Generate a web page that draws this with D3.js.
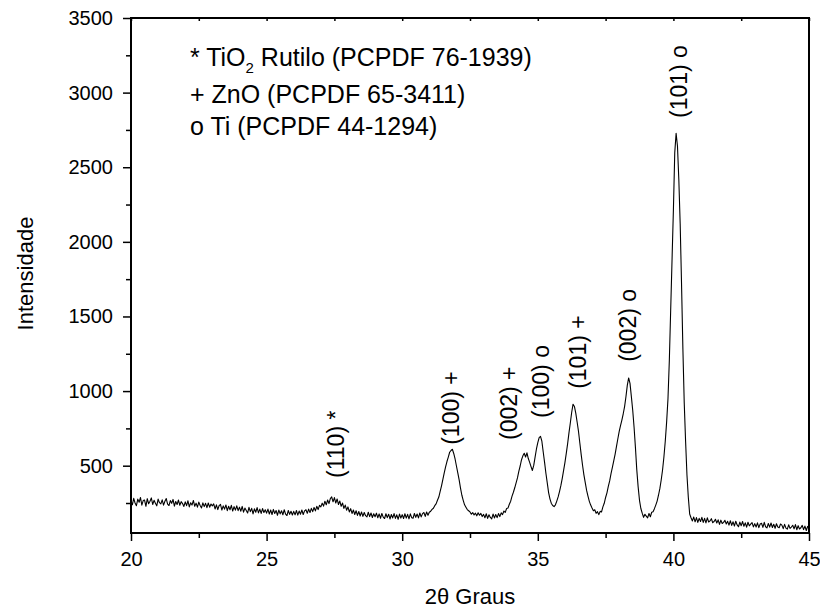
<!DOCTYPE html>
<html>
<head>
<meta charset="utf-8">
<script src="https://cdn.jsdelivr.net/npm/d3@7"></script>
<style>
  body { margin: 0; background: #fff; }
  svg { display: block; font-family: "Liberation Sans", Arial, sans-serif; }
</style>
</head>
<body>
<svg id="chart" width="820" height="609"></svg>
<script>
// 2θ grid of the scan (degrees)
const angleStart = 20;
const angleStep = 0.05;

// intensity, one value per 0.05 degree, 20.00 .. 45.00
const intensity = [
  // 20
  262, 238, 281, 250, 232, 276, 255, 287, 236, 266, 270, 228, 279, 245, 262, 284, 240, 268, 249, 231,
  // 21
  276, 252, 244, 271, 236, 262, 280, 243, 233, 266, 248, 274, 229, 260, 240, 270, 235, 259, 246, 227,
  // 22
  258, 232, 265, 224, 252, 236, 267, 228, 249, 222, 256, 233, 217, 251, 226, 248, 219, 250, 222, 243,
  // 23
  231, 244, 210, 238, 206, 233, 241, 203, 231, 209, 237, 199, 228, 205, 234, 196, 226, 202, 231, 199,
  // 24
  222, 195, 227, 189, 216, 200, 183, 221, 192, 214, 177, 211, 188, 219, 184, 209, 180, 213, 186, 205,
  // 25
  182, 209, 176, 203, 173, 207, 180, 200, 168, 203, 177, 198, 171, 205, 175, 166, 200, 174, 195, 170,
  // 26
  194, 171, 200, 169, 196, 175, 203, 173, 197, 205, 181, 209, 186, 214, 192, 220, 197, 228, 206, 234,
  // 27
  224, 249, 229, 262, 238, 270, 246, 280, 291, 258, 286, 250, 277, 240, 263, 228, 250, 214, 236, 202,
  // 28
  224, 190, 212, 180, 203, 173, 198, 167, 193, 163, 190, 160, 186, 165, 157, 188, 159, 183, 153, 178,
  // 29
  158, 182, 151, 177, 148, 180, 155, 146, 178, 152, 175, 143, 173, 150, 179, 147, 171, 141, 176, 149,
  // 30
  172, 146, 178, 149, 174, 144, 177, 152, 148, 180, 154, 176, 150, 183, 157, 179, 186, 160, 190, 168,
  // 31
  188, 195, 207, 215, 232, 244, 268, 290, 328, 365, 408, 452, 492, 528, 558, 590, 602, 610, 582, 545,
  // 32
  498, 452, 405, 350, 302, 268, 238, 222, 206, 198, 190, 175, 186, 170, 182, 164, 185, 168, 180, 159,
  // 33
  174, 151, 178, 147, 171, 153, 144, 176, 150, 173, 152, 179, 159, 184, 172, 196, 187, 213, 216, 242,
  // 34
  262, 296, 322, 352, 385, 418, 462, 498, 540, 566, 583, 558, 586, 548, 522, 494, 468, 502, 558, 612,
  // 35
  655, 688, 697, 664, 592, 522, 448, 383, 318, 276, 247, 233, 226, 238, 263, 291, 327, 366, 414, 467,
  // 36
  521, 583, 648, 722, 788, 858, 912, 897, 852, 793, 731, 652, 574, 503, 438, 386, 334, 296, 261, 236,
  // 37
  216, 198, 205, 181, 192, 172, 194, 190, 224, 248, 287, 318, 362, 398, 447, 488, 532, 576, 628, 679,
  // 38
  728, 768, 806, 848, 896, 962, 1038, 1088, 1052, 963, 872, 758, 622, 472, 358, 268, 213, 182, 154, 174,
  // 39
  162, 150, 180, 158, 188, 191, 212, 236, 263, 302, 346, 404, 471, 558, 664, 792, 948, 1205, 1545, 1880,
  // 40
  2214, 2598, 2728, 2642, 2418, 2122, 1718, 1282, 918, 662, 438, 288, 176, 151, 130, 156, 124, 152, 120, 147,
  // 41
  126, 154, 120, 147, 117, 151, 123, 130, 145, 118, 126, 141, 116, 137, 107, 135, 113, 120, 134, 109,
  // 42
  127, 102, 131, 100, 124, 96, 128, 103, 91, 122, 98, 126, 94, 117, 88, 121, 97, 108, 119, 90,
  // 43
  112, 89, 117, 85, 109, 114, 87, 120, 91, 83, 113, 88, 116, 86, 108, 81, 111, 89, 84, 109,
  // 44
  102, 78, 107, 82, 75, 104, 80, 89, 101, 77, 105, 71, 98, 76, 84, 100, 72, 95, 66, 93,
  // 45
  82
];

// peak annotations: text, angle of the label baseline, intensity where the label starts
const peakLabels = ["(110) *", "(100) +", "(002) +", "(100) o", "(101) +", "(002) o", "(101) o"];
const peakLabelAngles = [27.85, 32.09, 34.23, 35.41, 36.78, 38.62, 40.50];
const peakLabelLevels = [418, 640, 672, 820, 1015, 1196, 2830];

// phase legend
const legendLines = [
  ["* TiO", "2", " Rutilo (PCPDF 76-1939)"],
  ["+ ZnO (PCPDF 65-3411)"],
  ["o Ti (PCPDF 44-1294)"]
];

const xTicks = [20, 25, 30, 35, 40, 45];
const xMinorTicks = [22.5, 27.5, 32.5, 37.5, 42.5];
const yTicks = [500, 1000, 1500, 2000, 2500, 3000, 3500];
const yMinorTicks = [250, 750, 1250, 1750, 2250, 2750, 3250];

const svg = d3.select("#chart");
const width = 820;
const height = 609;
const margin = { top: 18, right: 11, bottom: 76, left: 131 };
const innerWidth = width - margin.left - margin.right;
const innerHeight = height - margin.top - margin.bottom;

const data = intensity.map((v, i) => ({ x: angleStart + i * angleStep, y: v }));

const xScale = d3.scaleLinear().domain([20, 45]).range([0, innerWidth]);
const yScale = d3.scaleLinear().domain([49, 3500]).range([innerHeight, 0]);

const g = svg.append("g").attr("transform", `translate(${margin.left}, ${margin.top})`);

// axes
const styleAxis = sel => {
    sel.select(".domain").remove();
    sel.attr("font-family", null);
    sel.selectAll("line").attr("stroke", "#000").attr("stroke-width", 1.5);
    sel.selectAll("text").attr("fill", "#000").style("font-size", "20px");
};

g.append("g")
    .attr("transform", `translate(0, ${innerHeight})`)
    .call(d3.axisBottom(xScale).tickValues(xTicks).tickSize(8).tickPadding(11).tickFormat(d3.format("d")))
    .call(styleAxis);

g.append("g")
    .attr("transform", `translate(0, ${innerHeight})`)
    .call(d3.axisBottom(xScale).tickValues(xMinorTicks).tickSize(5).tickFormat(""))
    .call(styleAxis);

// small inward ticks on the top edge
g.append("g")
    .call(d3.axisTop(xScale).tickValues(xTicks.concat(xMinorTicks)).tickSize(-3).tickFormat(""))
    .call(styleAxis);

g.append("g")
    .call(d3.axisLeft(yScale).tickValues(yTicks).tickSize(8).tickPadding(10).tickFormat(d3.format("d")))
    .call(styleAxis);

g.append("g")
    .call(d3.axisLeft(yScale).tickValues(yMinorTicks).tickSize(5).tickFormat(""))
    .call(styleAxis);

// frame
g.append("rect")
    .attr("x", 0)
    .attr("y", 0)
    .attr("width", innerWidth)
    .attr("height", innerHeight)
    .attr("fill", "none")
    .attr("stroke", "#000")
    .attr("stroke-width", 2);

// pattern
const line = d3.line().x(d => xScale(d.x)).y(d => yScale(d.y));
g.append("path")
    .datum(data)
    .attr("d", line)
    .attr("fill", "none")
    .attr("stroke", "#000")
    .attr("stroke-width", 1.1)
    .attr("stroke-linejoin", "round");

// peak labels, rotated
peakLabels.forEach((t, i) => {
    const px = xScale(peakLabelAngles[i]);
    const py = yScale(peakLabelLevels[i]);
    g.append("text")
        .attr("transform", `translate(${px}, ${py}) rotate(-90)`)
        .style("font-size", "23px")
        .attr("fill", "#000")
        .text(t);
});

// legend
const legendY = [48, 85, 117];
legendLines.forEach((parts, i) => {
    const txt = g.append("text")
        .attr("x", 59)
        .attr("y", legendY[i])
        .style("font-size", "25px")
        .attr("fill", "#000");
    if (parts.length === 1) {
        txt.text(parts[0]);
    } else {
        txt.append("tspan").text(parts[0]);
        txt.append("tspan").attr("dy", 7).style("font-size", "15px").text(parts[1]);
        txt.append("tspan").attr("dy", -7).text(parts[2]);
    }
});

// axis titles
svg.append("text")
    .attr("transform", `translate(33, ${margin.top + innerHeight / 2 - 2}) rotate(-90)`)
    .attr("text-anchor", "middle")
    .style("font-size", "22px")
    .text("Intensidade");

svg.append("text")
    .attr("x", margin.left + innerWidth / 2)
    .attr("y", 604)
    .attr("text-anchor", "middle")
    .style("font-size", "22px")
    .text("2θ Graus");
</script>
</body>
</html>
